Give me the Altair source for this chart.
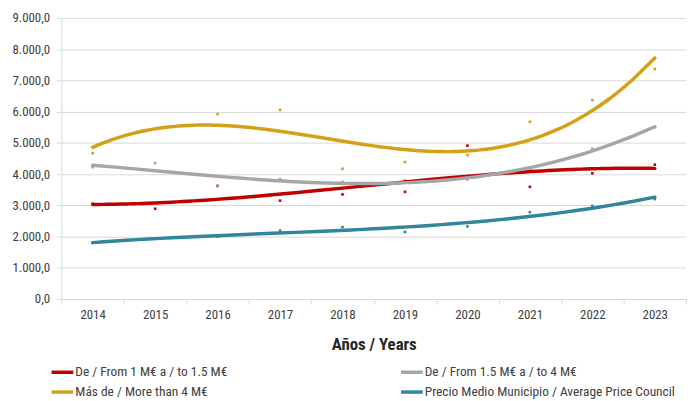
import altair as alt
import pandas as pd

years = list(range(2014, 2024))
series_names = [
    "De / From 1 M€ a / to 1.5 M€",
    "De / From 1.5 M€ a / to 4 M€",
    "Más de / More than 4 M€",
    "Precio Medio Municipio / Average Price Council",
]
colors = ["#C00000", "#A6A6A6", "#D4A017", "#31859C"]

red = [3050, 2890, 3620, 3150, 3350, 3430, 4910, 3590, 4025, 4300]
gray = [4220, 4350, 3640, 3840, 3750, 3800, 3830, 4130, 4810, 5500]
gold = [4670, 5450, 5920, 6055, 4170, 4385, 4605, 5675, 6370, 7365]
teal = [1800, 1930, 2000, 2190, 2300, 2145, 2325, 2780, 2980, 3200]

y_ticks = list(range(0, 10000, 1000))
x_ticks = [2013.5 + i for i in range(11)]

rows = []
for name, vals in zip(series_names, [red, gray, gold, teal]):
    for yr, v in zip(years, vals):
        rows.append({"year": yr, "value": v, "serie": name})
df = pd.DataFrame(rows)

FONT = "Roboto Condensed, Liberation Sans Narrow, Roboto"

x_enc = alt.X(
    "year:Q",
    scale=alt.Scale(domain=[2013.5, 2023.5], nice=False, zero=False),
    axis=alt.Axis(
        values=x_ticks,
        labelExpr="datum.value < 2023 ? format(datum.value + 0.5, 'd') : ''",
        labelOffset=31.5,
        labelFlush=False,
        labelOverlap=False,
        labelBound=False,
        grid=False,
        tickSize=5,
        tickColor="#D9D9D9",
        domainColor="#D9D9D9",
        labelPadding=5,
        labelFont=FONT,
        labelFontSize=13,
        labelColor="#404040",
        title="Años / Years",
        titleFont=FONT,
        titleFontSize=17,
        titleFontWeight="bold",
        titleColor="#262626",
        titlePadding=15,
    ),
)
y_enc = alt.Y(
    "value:Q",
    scale=alt.Scale(domain=[0, 9000], nice=False),
    axis=alt.Axis(
        values=y_ticks,
        labelExpr="datum.value == 0 ? '0,0' : format(datum.value / 1000, 'd') + '.000,0'",
        title=None,
        grid=True,
        gridColor="#D9D9D9",
        domainColor="#D9D9D9",
        tickColor="#D9D9D9",
        tickSize=5,
        labelPadding=7,
        labelFont=FONT,
        labelFontSize=13,
        labelColor="#404040",
    ),
)

color_scale = alt.Scale(domain=series_names, range=colors)

points = alt.Chart(df).mark_square(size=7, opacity=1).encode(
    x=x_enc,
    y=y_enc,
    color=alt.Color("serie:N", scale=color_scale),
)

lines = (
    alt.Chart(df)
    .transform_regression("year", "value", groupby=["serie"], method="poly", order=3, extent=[2014, 2023])
    .mark_line(strokeWidth=3.5, strokeCap="round")
    .encode(
        x=x_enc,
        y=y_enc,
        color=alt.Color(
            "serie:N",
            scale=color_scale,
            legend=alt.Legend(
                orient="none",
                legendX=-12,
                legendY=345,
                direction="horizontal",
                columns=2,
                columnPadding=168,
                rowPadding=-3,
                symbolType="stroke",
                symbolSize=484,
                symbolStrokeWidth=3.5,
                labelFont=FONT,
                labelFontSize=13.5,
                labelColor="#404040",
                labelOffset=0,
                labelLimit=320,
                title=None,
            ),
        ),
    )
)

chart = (
    alt.layer(points, lines)
    .properties(
        width=631,
        height=284,
        autosize=alt.AutoSizeParams(type="none"),
        padding={"left": 54, "top": 8, "right": 5, "bottom": 100},
        background="white",
    )
    .configure_view(strokeWidth=0)
)

chart.save("out.html", embed_options={"renderer": "svg", "actions": False})
